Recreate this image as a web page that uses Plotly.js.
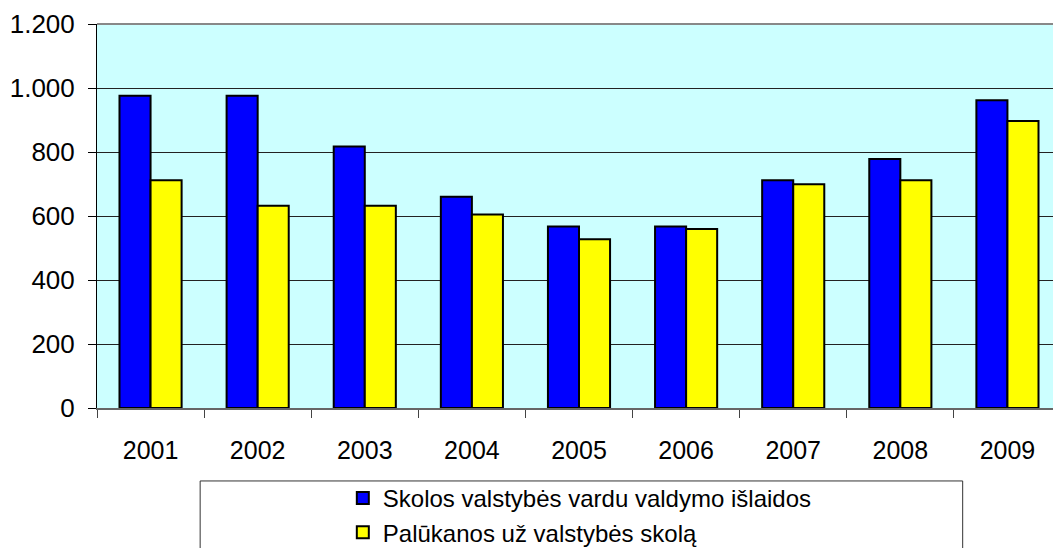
<!DOCTYPE html>
<html>
<head>
<meta charset="utf-8">
<script src="https://cdn.plot.ly/plotly-3.0.1.min.js"></script>
<style>
  html, body { margin: 0; padding: 0; background: #fff; overflow: hidden; }
  #graph { width: 1070px; height: 548px; }
</style>
</head>
<body>
<div id="graph"></div>
<script>
// metai ir reikšmės (mln. Lt), nuskaityta nuo paveikslo
const years = ['2001', '2002', '2003', '2004', '2005', '2006', '2007', '2008', '2009'];
const skolosIslaidos = [976, 976, 817, 660, 567, 567, 712, 778, 962];
const palukanos = [712, 632, 632, 605, 527, 559, 699, 712, 897];
const seriesNames = ['Skolos valstybės vardu valdymo išlaidos', 'Palūkanos už valstybės skolą'];

const font = 'Liberation Sans, Arial, sans-serif';

const traces = [
    {
        x: years,
        y: skolosIslaidos,
        type: 'bar',
        name: seriesNames[0],
        marker: { color: '#0000ff', line: { color: '#000', width: 2 } }
    },
    {
        x: years,
        y: palukanos,
        type: 'bar',
        name: seriesNames[1],
        marker: { color: '#ffff00', line: { color: '#000', width: 2 } }
    }
];

const layout = {
    width: 1070,
    height: 548,
    // legenda išeina už paveikslo ribų, todėl paraščių neplečiam
    margin: { l: 97, r: 9, t: 24, b: 140, autoexpand: false },
    paper_bgcolor: '#fff',
    plot_bgcolor: '#ccffff',
    separators: ',.',
    font: { family: font, size: 25, color: '#000' },
    barmode: 'group',
    bargap: 0.42,
    bargroupgap: 0,
    showlegend: true,
    legend: {
        orientation: 'v',
        x: 0.255,
        xanchor: 'left',
        y: -0.177,
        yanchor: 'top',
        bgcolor: 'rgba(0,0,0,0)',
        font: { family: font, size: 24, color: '#000' },
        tracegroupgap: 0
    },
    xaxis: {
        type: 'category',
        automargin: false,
        tickson: 'boundaries',
        ticks: 'outside',
        ticklen: 8,
        tickcolor: '#444',
        showline: true,
        linecolor: '#666',
        linewidth: 2,
        showgrid: false,
        ticklabelstandoff: 19,
        tickfont: { family: font, size: 25 }
    },
    yaxis: {
        automargin: false,
        range: [0, 1200],
        dtick: 200,
        separatethousands: true,
        ticks: 'outside',
        ticklen: 8,
        tickcolor: '#000',
        showline: true,
        linecolor: '#000',
        linewidth: 1,
        gridcolor: '#222',
        gridwidth: 1,
        zeroline: false,
        ticklabelstandoff: 8,
        tickfont: { family: font, size: 26 }
    },
    shapes: [
        // viršutinis rėmo kraštas
        { type: 'line', xref: 'paper', yref: 'paper', x0: 0, x1: 1, y0: 1, y1: 1,
          line: { color: '#888', width: 2 } },
        // legendos rėmelis
        { type: 'rect', xref: 'paper', yref: 'paper', x0: 0.107, x1: 0.898, y0: -0.19, y1: -0.6,
          line: { color: '#333', width: 1 }, fillcolor: '#fff', layer: 'below' }
    ]
};

Plotly.newPlot('graph', traces, layout, { displayModeBar: false, staticPlot: true });
</script>
</body>
</html>
